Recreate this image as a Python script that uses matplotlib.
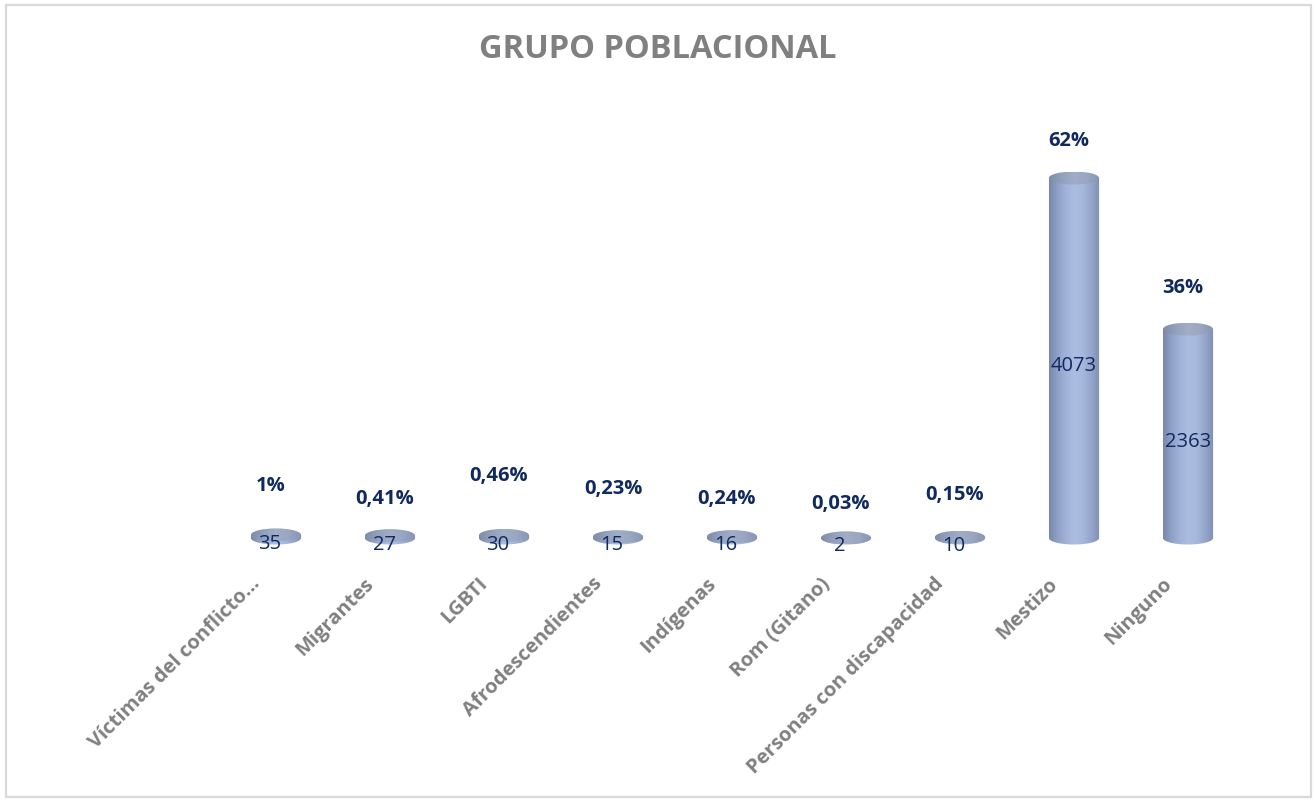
import numpy as np
import matplotlib
matplotlib.use("Agg")
import matplotlib.pyplot as plt
from matplotlib.patches import Ellipse, PathPatch, Rectangle
from matplotlib.path import Path

plt.rcParams['font.family'] = ['Open Sans', 'DejaVu Sans']

# ---- data ----
categories = ["Víctimas del conflicto…", "Migrantes", "LGBTI", "Afrodescendientes",
              "Indígenas", "Rom (Gitano)", "Personas con discapacidad", "Mestizo", "Ninguno"]
counts = [35, 27, 30, 15, 16, 2, 10, 4073, 2363]
pct_labels = ["1%", "0,41%", "0,46%", "0,23%", "0,24%", "0,03%", "0,15%", "62%", "36%"]
title = "GRUPO POBLACIONAL"

# vertical lift (pixels) of each percentage label above its cylinder cap
pct_lift_px = [43, 31, 54, 42, 32, 28, 37, 32, 36]

W, H, DPI = 1314, 804, 100
fig = plt.figure(figsize=(W / DPI, H / DPI), dpi=DPI)
fig.patch.set_facecolor("white")

# light frame round the chart
fig.add_artist(Rectangle((6 / W, 6 / H), (1311 - 6) / W, (798 - 6) / H,
                         transform=fig.transFigure, fill=False,
                         edgecolor="#d9d9d9", linewidth=1.6))

YMAX, YMIN = 4600, -400
px_per_unit = 360 / 4073
ax_left_px, ax_w_px = 219, 1026
base_px = 539                                   # pixel row of the value 0
ax_bottom_px = base_px - YMIN * px_per_unit
ax_h_px = (YMAX - YMIN) * px_per_unit
ax = fig.add_axes([ax_left_px / W, (H - ax_bottom_px) / H, ax_w_px / W, ax_h_px / H])
ax.set_xlim(-0.5, len(categories) - 0.5)
ax.set_ylim(YMIN, YMAX)
ax.axis("off")

bar_w = 0.44
ry = 6.5 / px_per_unit          # half-height of the cap ellipse in data units

body_grad = np.array([
    [0.47, 0.53, 0.67],
    [0.56, 0.63, 0.78],
    [0.63, 0.70, 0.85],
    [0.67, 0.74, 0.88],
    [0.65, 0.72, 0.86],
    [0.58, 0.65, 0.80],
    [0.50, 0.56, 0.70],
])
cap_grad = np.array([
    [0.50, 0.55, 0.66],
    [0.58, 0.63, 0.74],
    [0.63, 0.68, 0.78],
    [0.60, 0.65, 0.76],
    [0.53, 0.58, 0.70],
])


def smooth(stops, n=200):
    t = np.linspace(0, 1, len(stops))
    tt = np.linspace(0, 1, n)
    return np.stack([np.interp(tt, t, stops[:, k]) for k in range(3)], axis=1)[None, :, :]


body_img = smooth(body_grad)
cap_img = smooth(cap_grad)

for i, v in enumerate(counts):
    x0, x1 = i - bar_w / 2, i + bar_w / 2
    # body: rectangle plus the lower half of the base ellipse
    th = np.linspace(np.pi, 2 * np.pi, 60)
    arc = np.column_stack([i + bar_w / 2 * np.cos(th), ry * np.sin(th)])
    verts = np.vstack([[x0, v], arc, [x1, v], [x0, v]])
    body = PathPatch(Path(verts), facecolor="none", edgecolor="none")
    ax.add_patch(body)
    im = ax.imshow(body_img, extent=(x0, x1, -ry, v + ry), aspect="auto",
                   interpolation="bilinear", zorder=2)
    im.set_clip_path(body)

    cap = Ellipse((i, v), bar_w, 2 * ry, facecolor="none", edgecolor="none")
    ax.add_patch(cap)
    imc = ax.imshow(cap_img, extent=(x0, x1, v - ry, v + ry), aspect="auto",
                    interpolation="bilinear", zorder=3)
    imc.set_clip_path(cap)

    # count inside the cylinder
    ax.annotate(str(v), (i, v / 2), xytext=(-6 if v < 100 else 0, -7),
                textcoords="offset pixels", ha="center", va="center",
                fontsize=14.5, color="#10295e", zorder=5)
    # share above the cylinder
    ax.annotate(pct_labels[i], (i, v + ry), xytext=(-5, pct_lift_px[i]),
                textcoords="offset pixels", ha="center", va="center",
                fontsize=14.5, fontweight="bold", color="#10295e", zorder=5)

for i, name in enumerate(categories):
    ax.annotate(name, (i, 0), xytext=(-19, -42), textcoords="offset pixels",
                rotation=45, rotation_mode="anchor", ha="right", va="center",
                fontsize=14.5, fontweight="bold", color="#808080",
                annotation_clip=False)

fig.text(658 / W, 1 - 50 / H, title, ha="center", va="center",
         fontsize=23.5, fontweight="bold", color="#808080")

fig.savefig("out.png", dpi=DPI, facecolor="white")
